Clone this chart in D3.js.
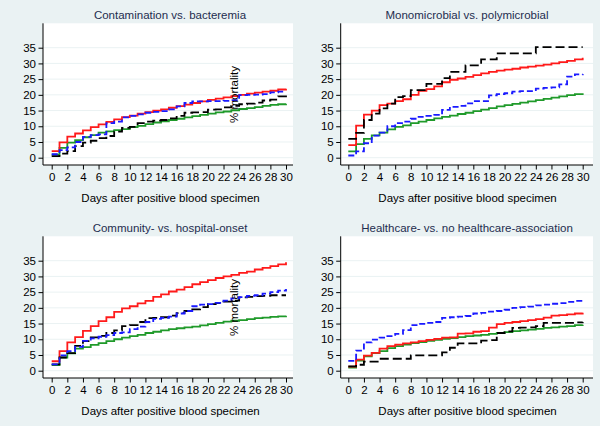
<!DOCTYPE html>
<html>
<head>
<meta charset="utf-8">
<script src="https://cdn.jsdelivr.net/npm/d3@7"></script>
<style>
  html, body { margin: 0; padding: 0; background: #eaf2f3; }
  svg { display: block; font-family: "Liberation Sans", Arial, sans-serif; }
</style>
</head>
<body>
<svg id="chart" width="600" height="426"></svg>
<script>
// ---------- data ----------
const days = [0,1,2,3,4,5,6,7,8,9,10,11,12,13,14,15,16,17,18,19,20,21,22,23,24,25,26,27,28,29,30];
const xTickValues = [0,2,4,6,8,10,12,14,16,18,20,22,24,26,28,30];
const yTickValues = [0,5,10,15,20,25,30,35];
const panelTitles = [
  "Contamination vs. bacteremia",
  "Monomicrobial vs. polymicrobial",
  "Community- vs. hospital-onset",
  "Healthcare- vs. no healthcare-association"
];
const xAxisTitle = "Days after positive blood specimen";
const yAxisTitle = "% mortality";

// Panel 1: Contamination vs. bacteremia
const p1Red   = [2.1,4.9,6.7,7.7,8.7,9.7,10.6,11.4,12.2,12.9,13.4,14.0,14.5,15.0,15.4,15.9,16.4,16.9,17.4,17.9,18.4,18.8,19.2,19.6,20.0,20.4,20.7,21.0,21.3,21.7,21.9];
const p1Blue  = [1.1,2.4,3.3,5.0,6.6,7.2,7.4,11.0,11.5,12.8,13.3,13.8,14.3,14.6,14.8,15.4,16.3,17.4,17.9,17.9,18.0,18.0,18.1,18.3,19.9,20.0,20.1,20.2,20.8,21.0,21.0];
const p1Black = [0.5,1.3,2.1,3.7,4.8,5.4,6.2,6.9,8.3,9.5,9.8,11.0,11.5,11.8,12.0,12.5,13.3,14.3,14.4,14.5,15.3,15.4,16.0,16.5,17.0,17.2,17.5,18.2,18.5,19.5,19.8];
const p1Green = [1.0,3.1,4.8,5.6,6.5,7.2,8.0,8.4,8.8,9.1,9.7,10.1,10.7,11.2,11.6,12.0,12.4,12.8,13.2,13.6,14.0,14.4,14.7,15.1,15.5,15.8,16.1,16.5,16.8,17.0,17.2];

// Panel 2: Monomicrobial vs. polymicrobial
const p2Red   = [4.0,10.2,13.7,15.0,16.7,17.2,18.0,18.6,20.0,21.3,21.8,22.7,24.0,24.8,25.2,25.7,26.3,26.8,27.3,27.7,28.0,28.3,28.7,29.0,29.3,29.6,30.0,30.4,30.8,31.3,31.8];
const p2Blue  = [0.7,2.0,4.6,7.0,8.0,10.0,11.0,11.5,12.4,13.0,13.3,13.6,15.2,16.2,16.5,17.3,18.0,18.0,19.8,20.2,20.5,21.0,21.2,21.2,22.0,22.2,22.4,23.3,25.8,26.5,26.6];
const p2Black = [6.0,7.9,12.0,14.0,15.7,17.2,19.3,19.6,21.5,21.5,23.5,23.5,25.3,27.3,27.3,29.4,29.4,31.3,31.3,33.2,33.2,33.2,33.2,33.2,35.2,35.2,35.2,35.2,35.2,35.2,35.2];
const p2Green = [2.0,4.3,6.0,7.1,8.0,9.0,9.8,10.3,11.0,11.5,12.0,12.5,13.0,13.4,13.9,14.3,14.8,15.3,15.8,16.3,16.7,17.1,17.5,17.9,18.3,18.7,19.1,19.5,19.9,20.2,20.5];

// Panel 3: Community- vs. hospital-onset
const p3Red   = [3.0,6.2,9.0,10.7,12.7,14.2,15.8,17.0,18.7,19.8,20.5,21.4,22.2,23.5,24.3,25.2,25.8,26.6,27.5,28.2,28.8,29.5,30.0,30.5,31.1,31.5,32.2,32.7,33.3,33.8,34.5];
const p3Blue  = [2.0,4.9,6.2,7.6,9.5,10.3,10.8,11.3,12.0,12.2,13.2,14.0,15.5,16.5,16.8,17.2,18.2,19.0,20.5,21.0,21.2,21.6,22.3,23.0,23.4,23.8,24.0,24.5,25.0,25.5,26.0];
const p3Black = [2.0,4.2,5.6,7.9,9.4,10.6,11.1,12.0,12.8,14.2,14.5,15.5,16.7,16.8,17.0,17.5,18.3,19.0,19.5,20.2,21.2,21.5,22.0,22.3,23.3,23.5,23.7,23.8,24.0,24.0,24.0];
const p3Green = [1.8,4.2,5.5,7.0,7.5,8.2,8.8,9.4,10.0,10.5,11.0,11.4,12.0,12.4,12.8,13.2,13.5,13.8,14.0,14.4,14.8,15.2,15.6,15.9,16.1,16.4,16.7,16.9,17.1,17.3,17.5];

// Panel 4: Healthcare- vs. no healthcare-association
const p4Red   = [1.3,3.5,4.8,5.7,7.0,7.8,8.3,8.7,9.0,9.4,9.8,10.1,10.5,10.6,11.8,11.9,12.4,12.6,13.7,14.8,15.2,15.5,15.8,16.1,16.4,16.9,17.5,17.7,17.9,18.2,18.4];
const p4Blue  = [3.1,6.4,9.0,9.9,10.5,11.0,11.7,12.9,14.5,14.9,15.2,15.5,16.8,17.0,17.2,17.4,18.2,18.4,18.8,19.0,19.4,20.0,20.2,20.4,20.8,21.0,21.3,21.5,21.9,22.2,22.6];
const p4Black = [1.4,1.9,2.9,2.9,3.8,3.8,3.8,3.8,4.9,4.9,4.9,4.9,5.8,7.3,8.7,8.7,8.7,9.6,9.7,12.0,12.5,13.6,13.7,13.8,14.2,15.2,15.2,15.2,15.2,15.4,15.5];
const p4Green = [1.0,3.2,4.6,5.6,6.2,7.2,7.8,8.3,8.8,9.1,9.5,9.8,10.1,10.4,10.7,11.0,11.2,11.4,11.7,12.0,12.3,12.6,12.8,13.1,13.3,13.6,13.8,14.0,14.2,14.5,14.6];

const panelSeries = [
  [p1Green, p1Red, p1Black, p1Blue],
  [p2Green, p2Red, p2Black, p2Blue],
  [p3Green, p3Red, p3Black, p3Blue],
  [p4Green, p4Red, p4Black, p4Blue]
];
const showYTitle = [true, false, true, false];

// ---------- styles ----------
const seriesStyle = [
  { color: "#1f9a2a", dash: null },
  { color: "#ff1a1a", dash: null },
  { color: "#000000", dash: "9,4" },
  { color: "#1a1aff", dash: "6,3" }
];
const cols = [
  { axisX: 43, right: 293, x0: 51.7, x30: 286, cx: 170 },
  { axisX: 340.7, right: 593, x0: 348.3, x30: 582.7, cx: 467 }
];
const rows = [
  { top: 23.3, bottom: 165, y0: 157.7, y35: 47.7, off: 0 },
  { top: 236.3, bottom: 378, y0: 370.7, y35: 260.7, off: 213 }
];

const svg = d3.select("#chart");
svg.append("rect").attr("width", 600).attr("height", 426).attr("fill", "#eaf2f3");

panelSeries.forEach((series, i) => {
  const c = cols[i % 2], r = rows[Math.floor(i / 2)];
  const x = d3.scaleLinear().domain([0, 30]).range([c.x0, c.x30]);
  const y = d3.scaleLinear().domain([0, 35]).range([r.y0, r.y35]);
  const g = svg.append("g");

  g.append("rect")
    .attr("x", c.axisX).attr("y", r.top)
    .attr("width", c.right - c.axisX).attr("height", r.bottom - r.top)
    .attr("fill", "#ffffff");

  g.append("g").selectAll("line").data(yTickValues).join("line")
    .attr("x1", c.axisX).attr("x2", c.right)
    .attr("y1", d => y(d)).attr("y2", d => y(d))
    .attr("stroke", "#eaf2f3").attr("stroke-width", 1);

  const line = d3.line().x((d, k) => x(days[k])).y(d => y(d)).curve(d3.curveStepAfter);
  series.forEach((vals, s) => {
    g.append("path").datum(vals)
      .attr("d", line)
      .attr("fill", "none")
      .attr("stroke", seriesStyle[s].color)
      .attr("stroke-width", 1.8)
      .attr("stroke-dasharray", seriesStyle[s].dash);
  });

  const xAxis = d3.axisBottom(x).tickValues(xTickValues).tickSize(4.5).tickPadding(3.5).tickSizeOuter(0);
  const gx = g.append("g").attr("transform", `translate(0,${r.bottom})`).call(xAxis);
  gx.select(".domain").remove();
  gx.append("line").attr("x1", c.axisX).attr("x2", c.right).attr("y1", 0).attr("y2", 0)
    .attr("stroke", "#000").attr("stroke-width", 1);
  gx.selectAll(".tick line").attr("stroke", "#000");
  gx.selectAll(".tick text").attr("fill", "#000").attr("font-size", "11.5px")
    .attr("font-family", "Liberation Sans, Arial, sans-serif");

  const yAxis = d3.axisLeft(y).tickValues(yTickValues).tickSize(4.5).tickPadding(2.5).tickSizeOuter(0);
  const gy = g.append("g").attr("transform", `translate(${c.axisX},0)`).call(yAxis);
  gy.select(".domain").remove();
  gy.append("line").attr("x1", 0).attr("x2", 0).attr("y1", r.top).attr("y2", r.bottom)
    .attr("stroke", "#000").attr("stroke-width", 1);
  gy.selectAll(".tick line").attr("stroke", "#000");
  gy.selectAll(".tick text").attr("fill", "#000").attr("font-size", "11.5px")
    .attr("font-family", "Liberation Sans, Arial, sans-serif");

  g.append("text").attr("x", c.cx).attr("y", r.off + 19)
    .attr("text-anchor", "middle").attr("font-size", "11.5px").attr("fill", "#1e2d4f")
    .text(panelTitles[i]);

  g.append("text").attr("x", c.cx + 0.5).attr("y", r.off + 201.5)
    .attr("text-anchor", "middle").attr("font-size", "11.5px").attr("fill", "#000")
    .text(xAxisTitle);

  if (showYTitle[i]) {
    g.append("text")
      .attr("transform", `translate(237.5,${r.off + 94.5}) rotate(-90)`)
      .attr("text-anchor", "middle").attr("font-size", "11.5px").attr("fill", "#000")
      .text(yAxisTitle);
  }
});
</script>
</body>
</html>
